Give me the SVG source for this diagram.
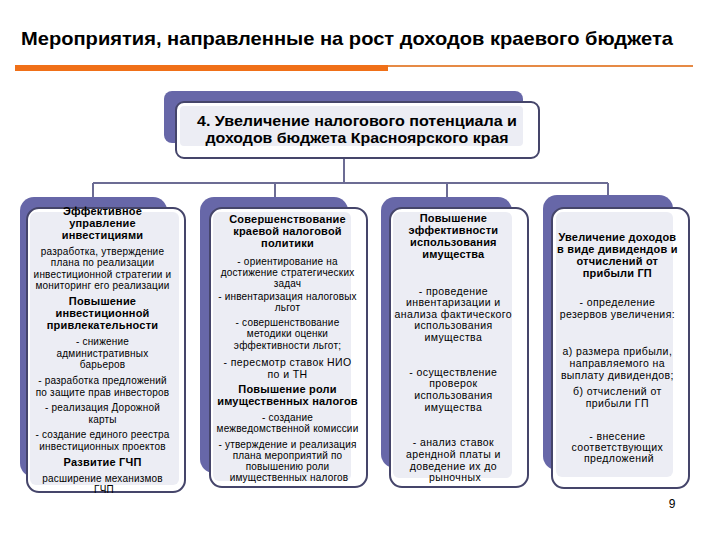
<svg xmlns="http://www.w3.org/2000/svg" width="720" height="540" viewBox="0 0 720 540">
<style>
.blue{fill:#6767a8}
.front{fill:#ffffff;stroke:#45456a;stroke-width:2}
.inner{fill:#ecedf4}
.conn{stroke:#6c6c94;stroke-width:2;fill:none}
.t{font-family:"Liberation Sans",Arial,sans-serif;fill:#000;text-anchor:middle}
.s{font-size:10px;letter-spacing:0.2px}
.m{font-size:10.5px;letter-spacing:0.4px}
.b{font-weight:bold;font-size:11px;letter-spacing:0.2px}
</style>
<rect width="720" height="540" fill="#ffffff"/>
<g id="title">
<text x="21" y="45" font-family="Liberation Sans, Arial, sans-serif" font-weight="bold" font-size="19" textLength="652" lengthAdjust="spacingAndGlyphs">Мероприятия, направленные на рост доходов краевого бюджета</text>
<rect x="15" y="65" width="373" height="6" fill="#f07018"/>
<rect x="388" y="65" width="305" height="2" fill="#e68a45"/>
</g>
<g id="connectors">
<path class="conn" d="M344 158 V183 M93 183 H608 M93 183 V197 M275 183 V197 M447 183 V197 M608 183 V195"/>
</g>
<g id="top">
<rect class="blue" x="164" y="91" width="359" height="52" rx="8"/>
<rect class="front" x="176" y="102" width="363" height="56" rx="8"/>
<rect class="inner" x="180" y="106" width="343" height="40" rx="4"/>
<text class="t" font-weight="bold" font-size="14.5"><tspan x="357" y="126" textLength="320" lengthAdjust="spacingAndGlyphs">4. Увеличение налогового потенциала и</tspan><tspan x="357" y="143" textLength="303" lengthAdjust="spacingAndGlyphs">доходов бюджета Красноярского края</tspan></text>
</g>
<g id="card1">
<rect class="blue" x="20" y="197" width="147" height="280" rx="14"/>
<rect class="front" x="27" y="208" width="158" height="284" rx="12"/>
<rect class="inner" x="30" y="212" width="149" height="273" rx="6"/>
<text class="t s">
<tspan class="b" x="104" y="215">Эффективное</tspan>
<tspan class="b" x="104" y="227">управление</tspan>
<tspan class="b" x="104" y="239">инвестициями</tspan>
<tspan x="104" y="255">разработка, утверждение</tspan>
<tspan x="104" y="266">плана по реализации</tspan>
<tspan x="104" y="278">инвестиционной стратегии и</tspan>
<tspan x="104" y="289">мониторинг его реализации</tspan>
<tspan class="b" x="104" y="305">Повышение</tspan>
<tspan class="b" x="104" y="317">инвестиционной</tspan>
<tspan class="b" x="104" y="329">привлекательности</tspan>
<tspan x="104" y="345">- снижение</tspan>
<tspan x="104" y="357">административных</tspan>
<tspan x="104" y="368">барьеров</tspan>
<tspan x="104" y="384">- разработка предложений</tspan>
<tspan x="104" y="396">по защите прав инвесторов</tspan>
<tspan x="104" y="411">- реализация Дорожной</tspan>
<tspan x="104" y="423">карты</tspan>
<tspan x="104" y="438">- создание единого реестра</tspan>
<tspan x="104" y="450">инвестиционных проектов</tspan>
<tspan class="b" x="104" y="466">Развитие ГЧП</tspan>
<tspan x="104" y="482">расширение механизмов</tspan>
<tspan x="104" y="493">ГЧП</tspan>
</text>
</g>
<g id="card2">
<rect class="blue" x="200" y="197" width="148" height="276" rx="14"/>
<rect class="front" x="210" y="208" width="157" height="279" rx="12"/>
<rect class="inner" x="213" y="212" width="138" height="269" rx="6"/>
<text class="t s">
<tspan class="b" x="289" y="223">Совершенствование</tspan>
<tspan class="b" x="289" y="235">краевой налоговой</tspan>
<tspan class="b" x="289" y="247">политики</tspan>
<tspan x="289" y="265">- ориентирование на</tspan>
<tspan x="289" y="276">достижение стратегических</tspan>
<tspan x="289" y="287">задач</tspan>
<tspan x="289" y="300">- инвентаризация налоговых</tspan>
<tspan x="289" y="311">льгот</tspan>
<tspan x="289" y="326">- совершенствование</tspan>
<tspan x="289" y="337">методики оценки</tspan>
<tspan x="289" y="349">эффективности льгот;</tspan>
<tspan class="m" x="289" y="366">- пересмотр ставок НИО</tspan>
<tspan class="m" x="289" y="378">по и ТН</tspan>
<tspan class="b" x="289" y="393">Повышение роли</tspan>
<tspan class="b" x="289" y="405">имущественных налогов</tspan>
<tspan x="289" y="421">- создание</tspan>
<tspan x="289" y="432">межведомственной комиссии</tspan>
<tspan x="289" y="448">- утверждение и реализация</tspan>
<tspan x="289" y="459">плана мероприятий по</tspan>
<tspan x="289" y="470">повышению роли</tspan>
<tspan x="289" y="481">имущественных налогов</tspan>
</text>
</g>
<g id="card3">
<rect class="blue" x="381" y="197" width="131" height="271" rx="14"/>
<rect class="front" x="390" y="208" width="138" height="279" rx="12"/>
<rect class="inner" x="393" y="212" width="119" height="266" rx="6"/>
<text class="t m">
<tspan class="b" x="455" y="222">Повышение</tspan>
<tspan class="b" x="455" y="234">эффективности</tspan>
<tspan class="b" x="455" y="246">использования</tspan>
<tspan class="b" x="455" y="258">имущества</tspan>
<tspan x="455" y="295">- проведение</tspan>
<tspan x="455" y="306">инвентаризации и</tspan>
<tspan x="455" y="318">анализа фактического</tspan>
<tspan x="455" y="329">использования</tspan>
<tspan x="455" y="341">имущества</tspan>
<tspan x="455" y="376">- осуществление</tspan>
<tspan x="455" y="387">проверок</tspan>
<tspan x="455" y="399">использования</tspan>
<tspan x="455" y="411">имущества</tspan>
<tspan x="455" y="446">- анализ ставок</tspan>
<tspan x="455" y="458">арендной платы и</tspan>
<tspan x="455" y="470">доведение их до</tspan>
<tspan x="455" y="481">рыночных</tspan>
</text>
</g>
<g id="card4">
<rect class="blue" x="543" y="195" width="130" height="275" rx="14"/>
<rect class="front" x="552" y="208" width="137" height="280" rx="12"/>
<rect class="inner" x="556" y="212" width="117" height="265" rx="6"/>
<text class="t m">
<tspan class="b" x="619" y="241">Увеличение доходов</tspan>
<tspan class="b" x="619" y="253">в виде дивидендов и</tspan>
<tspan class="b" x="619" y="265">отчислений от</tspan>
<tspan class="b" x="619" y="277">прибыли ГП</tspan>
<tspan x="619" y="306">- определение</tspan>
<tspan x="619" y="318">резервов увеличения:</tspan>
<tspan x="619" y="355">а) размера прибыли,</tspan>
<tspan x="619" y="367">направляемого на</tspan>
<tspan x="619" y="379">выплату дивидендов;</tspan>
<tspan x="619" y="395">б) отчислений от</tspan>
<tspan x="619" y="407">прибыли ГП</tspan>
<tspan x="619" y="440">- внесение</tspan>
<tspan x="619" y="451">соответствующих</tspan>
<tspan x="619" y="462">предложений</tspan>
</text>
</g>
<g id="page">
<text x="672" y="508" font-family="Liberation Sans, Arial, sans-serif" font-size="12" text-anchor="middle">9</text>
</g>
</svg>
